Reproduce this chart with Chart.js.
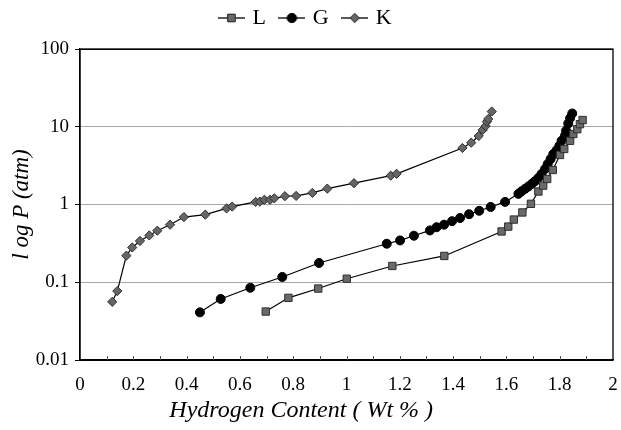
<!DOCTYPE html>
<html>
<head>
<meta charset="utf-8">
<script src="https://cdn.jsdelivr.net/npm/chart.js@4/dist/chart.umd.min.js"></script>
<style>
  html, body { margin: 0; padding: 0; background: #fff; }
  #wrap { width: 621px; height: 430px; }
</style>
</head>
<body>
<div id="wrap"><canvas id="grafico"></canvas></div>
<script>
// Serie L (cuadrados)
const xL = [0.697, 0.782, 0.894, 1.001, 1.172, 1.367, 1.582, 1.607, 1.628, 1.660, 1.692, 1.720, 1.738, 1.753, 1.774, 1.801, 1.817, 1.839, 1.851, 1.866, 1.876, 1.886];
const yL = [0.042, 0.063, 0.083, 0.111, 0.162, 0.218, 0.45, 0.52, 0.64, 0.79, 1.02, 1.47, 1.75, 2.13, 2.78, 4.34, 5.18, 6.6, 8.06, 9.3, 10.8, 12.2];

// Serie G (circulos)
const xG = [0.450, 0.528, 0.639, 0.759, 0.897, 1.151, 1.201, 1.253, 1.313, 1.338, 1.366, 1.396, 1.426, 1.460, 1.498, 1.541, 1.595, 1.645, 1.657, 1.670, 1.682, 1.695, 1.707, 1.720, 1.732, 1.745, 1.755, 1.766, 1.776, 1.789, 1.799, 1.807, 1.820, 1.824, 1.832, 1.839, 1.847];
const yG = [0.041, 0.061, 0.085, 0.117, 0.177, 0.313, 0.345, 0.397, 0.464, 0.51, 0.55, 0.61, 0.67, 0.75, 0.83, 0.93, 1.08, 1.37, 1.48, 1.59, 1.70, 1.84, 1.99, 2.2, 2.47, 2.87, 3.32, 3.85, 4.46, 5.02, 5.7, 6.6, 7.7, 8.9, 11.0, 12.9, 14.8];

// Serie K (rombos)
const xK = [0.121, 0.140, 0.174, 0.196, 0.225, 0.260, 0.290, 0.338, 0.390, 0.470, 0.550, 0.571, 0.659, 0.675, 0.692, 0.713, 0.729, 0.769, 0.811, 0.872, 0.928, 1.028, 1.166, 1.188, 1.435, 1.468, 1.496, 1.511, 1.522, 1.527, 1.532, 1.545];
const yK = [0.056, 0.077, 0.22, 0.28, 0.34, 0.40, 0.46, 0.55, 0.69, 0.74, 0.89, 0.94, 1.08, 1.09, 1.15, 1.15, 1.2, 1.28, 1.29, 1.41, 1.60, 1.88, 2.35, 2.48, 5.33, 6.24, 7.6, 9.1, 10.2, 11.6, 12.6, 15.7];

const yTicks = [0.01, 0.1, 1, 10, 100];
const xTicks = [0, 0.2, 0.4, 0.6, 0.8, 1, 1.2, 1.4, 1.6, 1.8, 2];
const xMinor = [0.1, 0.3, 0.5, 0.7, 0.9, 1.1, 1.3, 1.5, 1.7, 1.9];

const tituloX = 'Hydrogen Content ( Wt % )';
const tituloY = 'l og P (atm)';

const puntos = (xs, ys) => xs.map((x, i) => ({ x: x, y: ys[i] }));

const serif = "'Liberation Serif', 'DejaVu Serif', serif";

// icono de leyenda: linea con marcador
function iconoLeyenda(estilo, relleno, borde, radio) {
    const c = document.createElement('canvas');
    c.width = 27; c.height = 14;
    const ctx = c.getContext('2d');
    ctx.strokeStyle = '#000';
    ctx.lineWidth = 1.3;
    ctx.beginPath(); ctx.moveTo(0, 7); ctx.lineTo(27, 7); ctx.stroke();
    ctx.fillStyle = relleno; ctx.strokeStyle = borde; ctx.lineWidth = 1;
    Chart.helpers.drawPoint(ctx, { pointStyle: estilo, radius: radio, borderWidth: 1 }, 13.5, 7);
    ctx.fill(); ctx.stroke();
    return c;
}

const estilos = {
    L: { pointStyle: 'rect', bg: '#6a6a6a', bc: '#2e2e2e', r: 5.2 },
    G: { pointStyle: 'circle', bg: '#000', bc: '#000', r: 4.5 },
    K: { pointStyle: 'rectRot', bg: '#666', bc: '#2e2e2e', r: 4.6 }
};

const serie = (nombre, xs, ys) => ({
    label: nombre,
    data: puntos(xs, ys),
    borderColor: '#000',
    borderWidth: 1.2,
    pointStyle: estilos[nombre].pointStyle,
    pointRadius: estilos[nombre].r,
    pointBackgroundColor: estilos[nombre].bg,
    pointBorderColor: estilos[nombre].bc,
    pointBorderWidth: 1,
    showLine: true,
    tension: 0
});

// marco, marcas menores y titulo del eje x
const marco = {
    id: 'marco',
    afterDraw(chart) {
        const { ctx, chartArea: a, scales } = chart;
        ctx.save();
        ctx.strokeStyle = '#000';
        ctx.lineWidth = 1.3;
        ctx.strokeRect(a.left, a.top, a.right - a.left, a.bottom - a.top);
        ctx.lineWidth = 1;
        ctx.strokeStyle = '#555';
        xTicks.concat(xMinor).forEach(v => {
            if (v <= 0 || v >= 2) return;
            const px = Math.round(scales.x.getPixelForValue(v)) + 0.5;
            ctx.beginPath(); ctx.moveTo(px, a.bottom); ctx.lineTo(px, a.bottom - 4); ctx.stroke();
        });
        // titulo del eje x (desplazado a la izquierda como en el original)
        ctx.fillStyle = '#000';
        ctx.font = 'italic 24px ' + serif;
        ctx.textAlign = 'center';
        ctx.textBaseline = 'middle';
        ctx.fillText(tituloX, scales.x.getPixelForValue(0.83), a.bottom + 51);
        ctx.restore();
    }
};

new Chart(document.getElementById('grafico'), {
    type: 'scatter',
    data: {
        datasets: [serie('L', xL, yL), serie('G', xG, yG), serie('K', xK, yK)]
    },
    plugins: [marco],
    options: {
        responsive: true,
        maintainAspectRatio: false,
        animation: false,
        layout: { padding: { left: 0, right: 8, top: -9, bottom: 0 } },
        plugins: {
            tooltip: { enabled: false },
            // separador vacio entre leyenda y grafico
            subtitle: {
                display: true,
                text: '',
                weight: 100,
                padding: 0,
                font: { size: 8, lineHeight: 1.25 }
            },
            legend: {
                position: 'top',
                labels: {
                    usePointStyle: true,
                    pointStyleWidth: 20,
                    boxHeight: 14,
                    padding: 16,
                    color: '#000',
                    font: { family: serif, size: 22 },
                    generateLabels: chart => chart.data.datasets.map((d, i) => ({
                        text: d.label,
                        datasetIndex: i,
                        fillStyle: '#000',
                        strokeStyle: '#000',
                        lineWidth: 0,
                        fontColor: '#000',
                        pointStyle: iconoLeyenda(estilos[d.label].pointStyle, estilos[d.label].bg, estilos[d.label].bc, estilos[d.label].r)
                    }))
                }
            }
        },
        scales: {
            x: {
                type: 'linear',
                min: 0,
                max: 2,
                afterBuildTicks: s => { s.ticks = xTicks.map(v => ({ value: v })); },
                afterFit: s => { s.height = 70; s.paddingRight = 0; },
                grid: { display: false },
                border: { display: true, color: '#000', width: 1.3 },
                ticks: {
                    color: '#000',
                    padding: 6,
                    maxRotation: 0,
                    font: { family: serif, size: 19 },
                    callback: v => String(v)
                }
            },
            y: {
                type: 'logarithmic',
                min: 0.01,
                max: 100,
                afterBuildTicks: s => { s.ticks = yTicks.map(v => ({ value: v })); },
                afterFit: s => { s.width = 80; },
                grid: {
                    color: ctx => (ctx.tick && (ctx.tick.value === 0.01 || ctx.tick.value === 100)) ? '#000' : '#a8a8a8',
                    lineWidth: 1,
                    tickLength: 5,
                    tickColor: '#000'
                },
                border: { display: true, color: '#000', width: 1.3 },
                ticks: {
                    color: '#000',
                    padding: 6,
                    font: { family: serif, size: 19 },
                    callback: v => String(v)
                },
                title: {
                    display: true,
                    text: tituloY,
                    color: '#000',
                    padding: { top: 8, bottom: 0 },
                    font: { family: serif, size: 23, style: 'italic' }
                }
            }
        }
    }
});
</script>
</body>
</html>
